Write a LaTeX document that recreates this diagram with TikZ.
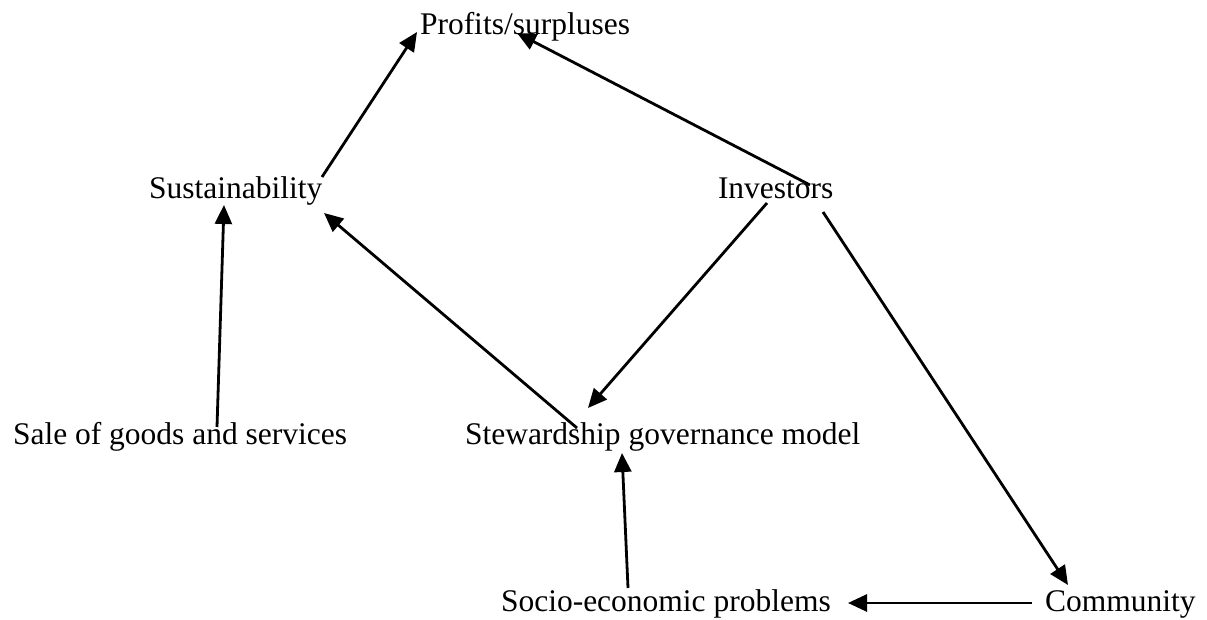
\documentclass[tikz,border=0pt]{standalone}
\usepackage{fontspec}
\setmainfont{Liberation Serif}
\usetikzlibrary{arrows.meta,calc}
\tikzset{
  lbl/.style={inner sep=0pt, outer sep=0pt, anchor=base west, font=\fontsize{31.5}{36}\selectfont},
  conn/.style={line width=2.8pt, -{Triangle[length=19pt,width=17pt]}}
}
\begin{document}
\begin{tikzpicture}[x=1pt,y=1pt]
\useasboundingbox (0,0) rectangle (1207,619);
\node[lbl] (prof) at (420,584) {Profits/surpluses};
\node[lbl] (sust) at (149,420) {Sustainability};
\node[lbl] (inv) at (718,420) {Investors};
\node[lbl] (sale) at (13,175) {Sale of goods and services};
\node[lbl] (stew) at (465,175) {Stewardship governance model};
\node[lbl] (socio) at (501,8) {Socio-economic problems};
\node[lbl] (comm) at (1045,8) {Community};
\draw[conn] ($(sust.base west)+(173,22)$) -- ($(prof.base west)+(-3,3)$);
\draw[conn] ($(inv.base west)+(92,14)$) -- ($(prof.base west)+(97,2)$);
\draw[conn] ($(inv.base west)+(49,-4)$) -- ($(stew.base west)+(123,36)$);
\draw[conn] ($(inv.base west)+(105,-13)$) -- ($(comm.base west)+(23,26)$);
\draw[conn] ($(stew.base west)+(112,16)$) -- ($(sust.base west)+(175,-14)$);
\draw[conn] ($(sale.base west)+(204,17)$) -- ($(sust.base west)+(75,-6)$);
\draw[conn] ($(socio.base west)+(127,23)$) -- ($(stew.base west)+(157,-9)$);
\draw[conn] ($(comm.base west)+(-13,8)$) -- ($(socio.base west)+(347,8)$);
\end{tikzpicture}
\end{document}
